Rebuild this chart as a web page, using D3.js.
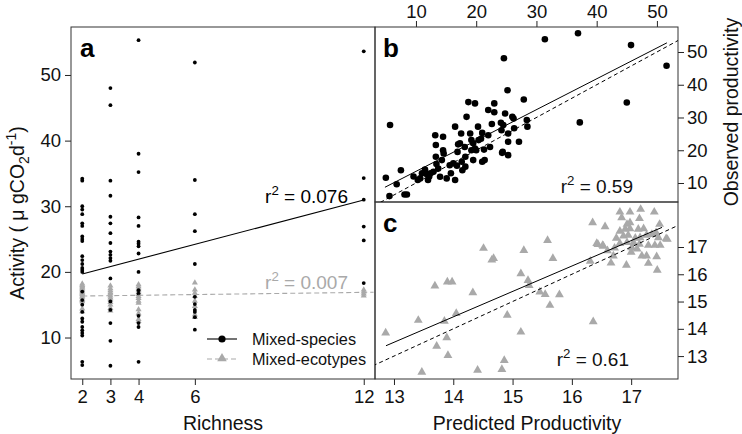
<!DOCTYPE html>
<html><head><meta charset="utf-8">
<script src="https://cdn.jsdelivr.net/npm/d3@7"></script>
<style>
body{margin:0;background:#fff}
text{font-family:"Liberation Sans",Arial,Helvetica,sans-serif}
</style>
</head><body>
<svg id="chart" width="742" height="434"></svg>
<script>
// ---------- Panel a data (Activity vs Richness) ----------
const richnessLevels = [2, 3, 4, 6, 12];
const species2 = [34.2, 33.9, 30.0, 29.5, 28.8, 27.4, 27.0, 25.4, 25.0, 24.7, 22.4, 21.8, 21.2, 20.6, 20.3, 20.0, 17.0, 15.7, 15.0, 13.9, 12.9, 12.4, 11.6, 11.1, 10.7, 10.3, 6.3, 5.8];
const species3 = [48.0, 45.4, 33.9, 31.6, 28.4, 27.4, 25.9, 24.4, 23.1, 22.6, 22.1, 21.7, 19.0, 15.5, 14.2, 12.2, 9.5, 5.7];
const species4 = [55.3, 38.0, 35.2, 28.3, 27.0, 24.6, 24.3, 23.9, 22.8, 20.0, 17.2, 16.7, 13.3, 12.2, 11.6, 6.3];
const species6 = [51.9, 34.0, 28.8, 26.2, 21.2, 16.2, 15.1, 14.2, 13.9, 13.1, 11.2];
const species12 = [53.6, 34.3, 31.0, 26.9, 24.8, 18.3];
const ecotypes2 = [18.3, 18.1, 17.9, 17.7, 17.5, 17.3, 17.1, 16.9, 16.7, 16.5, 16.3, 16.0, 15.8, 15.6, 14.5, 14.1];
const ecotypes3 = [18.0, 17.6, 17.3, 17.0, 16.8, 16.5, 16.2, 15.9, 15.5, 15.1, 14.6, 14.2];
const ecotypes4 = [18.2, 17.9, 17.6, 17.3, 17.0, 16.7, 16.4, 16.1, 15.7, 15.4, 14.4, 13.8, 12.9, 12.6];
const ecotypes6 = [18.45, 17.4, 16.9, 16.4, 15.7, 14.9, 13.6, 13.2];
const ecotypes12 = [17.4, 17.1, 16.8, 16.5];
const speciesFit = [17.43, 1.127];   // intercept, slope
const ecotypesFit = [16.21, 0.056];
const r2A = ["0.076", "0.007"];
const ticksRichness = [2, 3, 4, 6, 12];
const ticksActivity = [10, 20, 30, 40, 50];

// ---------- Panel b data (observed vs predicted productivity, species) ----------
const predB = [31.4, 36.9, 45.7, 51.6, 45.0, 37.2, 24.6, 25.2, 27.9, 5.7,
  5.0, 5.6, 6.8, 7.5, 8.1, 8.5, 10.3, 10.7, 11.5, 11.8, 12.0, 12.2, 12.9, 13.2, 13.3, 13.3, 13.4, 13.7, 14.0,
  14.5, 14.5, 14.6, 14.3, 15.1, 15.6, 16.5, 16.2, 16.5, 16.8, 17.5, 17.3, 17.6, 17.7, 18.1, 18.2, 18.2, 18.4,
  18.7, 19.8, 19.0, 19.2, 19.5, 19.2, 19.8, 19.5, 20.3, 20.4, 20.0, 21.0, 21.3, 21.4, 21.0, 22.0, 23.0, 22.0,
  22.3, 23.0, 24.1, 24.2, 24.4, 24.8, 25.3, 25.3, 26.0, 26.3, 27.1, 25.3, 24.5, 26.2, 28.4, 28.5, 24.3,
  12.4, 15.8, 16.9, 20.8, 22.6, 11.0, 9.6, 17.0];
const obsB = [53.9, 55.7, 52.1, 45.8, 34.6, 28.5, 48.1, 38.3, 35.5, 27.7,
  11.6, 6.0, 9.6, 13.9, 6.5, 6.5, 10.9, 11.4, 14.1, 12.7, 10.9, 12.0, 13.4, 24.6, 21.6, 18.0, 15.8, 14.4, 11.9,
  24.1, 20.0, 19.0, 17.0, 11.4, 15.4, 27.2, 16.0, 10.9, 15.3, 25.1, 22.1, 16.5, 13.9, 21.0, 18.0, 15.0, 30.2,
  34.7, 34.3, 25.1, 23.1, 22.1, 20.0, 20.5, 17.0, 27.2, 23.1, 20.0, 25.3, 20.2, 17.0, 16.5, 32.3, 31.6, 24.6,
  21.0, 34.3, 28.4, 26.1, 19.5, 31.2, 25.1, 22.6, 30.2, 26.7, 22.6, 18.5, 27.7, 29.7, 29.2, 27.2, 19.2,
  13.0, 13.0, 19.5, 23.5, 28.0, 13.0, 12.0, 21.8];
const fitB = [4.13, 0.942];
const fitBRange = [4.85, 51.66];
const ticksPredB = [10, 20, 30, 40, 50];
const ticksObsB = [10, 20, 30, 40, 50];

// ---------- Panel c data (observed vs predicted productivity, ecotypes) ----------
const predC = [12.86, 13.47, 13.41, 13.69, 13.72, 13.85, 13.89, 13.91, 13.90, 13.98, 14.05, 14.33, 14.41, 14.51,
  14.65, 14.68, 14.82, 14.86, 14.91, 15.14, 15.14, 15.19, 15.26, 15.28, 15.46, 15.55, 15.59, 15.63, 15.68, 15.79,
  16.31, 16.36, 16.35, 16.44, 16.53, 16.56, 16.81, 16.98, 17.16, 17.39, 16.84, 16.93, 16.98, 17.14, 17.48,
  16.81, 16.90, 16.98, 17.12, 17.21, 16.75, 16.87, 16.95, 17.07, 17.15, 17.26, 17.35, 17.42, 17.46, 17.61,
  16.42, 16.52, 16.81, 16.93, 17.04, 17.01, 17.10, 17.14, 17.29, 17.40, 17.49, 16.70, 17.18, 17.26, 17.43,
  16.92, 17.29, 17.44, 17.59, 16.66, 17.00, 16.72, 16.60];
const obsC = [13.89, 12.45, 14.35, 15.61, 13.40, 14.32, 13.71, 13.06, 15.76, 15.76, 14.60, 15.36, 12.52, 16.99,
  16.56, 16.62, 12.55, 12.88, 14.54, 16.06, 13.92, 16.91, 15.81, 15.63, 15.39, 15.30, 17.28, 14.90, 16.62, 15.29,
  16.52, 14.30, 17.93, 17.13, 17.07, 17.78, 18.32, 18.32, 18.42, 18.32, 18.11, 17.87, 17.93, 18.08, 17.87,
  17.62, 17.69, 17.71, 17.69, 17.71, 17.36, 17.44, 17.47, 17.36, 17.38, 17.47, 17.50, 17.56, 17.38, 17.32,
  17.17, 17.10, 17.17, 17.20, 17.20, 17.01, 16.97, 17.14, 17.10, 17.10, 17.10, 16.71, 16.71, 16.71, 16.68,
  16.37, 16.44, 16.19, 17.34, 16.45, 16.85, 17.00, 16.90];
const fitC = [1.39, 0.932];
const fitCRange = [12.865, 17.52];
const ticksPredC = [13, 14, 15, 16, 17];
const ticksObsC = [13, 14, 15, 16, 17];

// ---------- layout ----------
const svg = d3.select("#chart");
const GREY = "#a9a9a9";
const boxA = {l: 71, r: 375, t: 27, b: 379};
const boxB = {l: 375, r: 678, t: 27, b: 202};
const boxC = {l: 375, r: 678, t: 202, b: 379};

const xA = d3.scaleLinear().domain([1.6, 12.4]).range([boxA.l, boxA.r]);
const yA = d3.scaleLinear().domain([3.68, 57.31]).range([boxA.b, boxA.t]);
const xB = d3.scaleLinear().domain([3.2, 53.5]).range([boxB.l, boxB.r]);
const yB = d3.scaleLinear().domain([4.2, 57.63]).range([boxB.b, boxB.t]);
const xC = d3.scaleLinear().domain([12.68, 17.79]).range([boxC.l, boxC.r]);
const yC = d3.scaleLinear().domain([12.16, 18.65]).range([boxC.b, boxC.t]);

const defs = svg.append("defs");
[["clipB", boxB], ["clipC", boxC], ["clipA", boxA]].forEach(([id, b]) => {
  defs.append("clipPath").attr("id", id).append("rect")
    .attr("x", b.l).attr("y", b.t).attr("width", b.r - b.l).attr("height", b.b - b.t);
});

const fmt = d3.format("d");
function styleAxis(g) {
  g.select(".domain").remove();
  g.selectAll(".tick line").attr("stroke", "#222").attr("stroke-width", 1);
  g.selectAll(".tick text").attr("fill", "#111").style("font-size", "18.5px")
    .style("font-family", '"Liberation Sans",Arial,sans-serif');
}

// axes
svg.append("g").attr("transform", `translate(${boxA.l},0)`)
  .call(d3.axisLeft(yA).tickValues(ticksActivity).tickFormat(fmt).tickSize(6).tickPadding(4)).call(styleAxis);
svg.append("g").attr("transform", `translate(0,${boxA.b})`)
  .call(d3.axisBottom(xA).tickValues(ticksRichness).tickFormat(fmt).tickSize(6).tickPadding(5)).call(styleAxis);
svg.append("g").attr("transform", `translate(0,${boxB.t})`)
  .call(d3.axisTop(xB).tickValues(ticksPredB).tickFormat(fmt).tickSize(6).tickPadding(3)).call(styleAxis);
svg.append("g").attr("transform", `translate(${boxB.r},0)`)
  .call(d3.axisRight(yB).tickValues(ticksObsB).tickFormat(fmt).tickSize(6).tickPadding(3)).call(styleAxis);
svg.append("g").attr("transform", `translate(0,${boxC.b})`)
  .call(d3.axisBottom(xC).tickValues(ticksPredC).tickFormat(fmt).tickSize(6).tickPadding(5)).call(styleAxis);
svg.append("g").attr("transform", `translate(${boxC.r},0)`)
  .call(d3.axisRight(yC).tickValues(ticksObsC).tickFormat(fmt).tickSize(6).tickPadding(3)).call(styleAxis);

// boxes
[boxA, boxB, boxC].forEach(b => {
  svg.append("rect").attr("x", b.l).attr("y", b.t).attr("width", b.r - b.l).attr("height", b.b - b.t)
    .attr("fill", "none").attr("stroke", "#333").attr("stroke-width", 1);
});

const tri = d3.symbol().type(d3.symbolTriangle);

// ---------- panel a ----------
const speciesCols = [species2, species3, species4, species6, species12];
const ecotypeCols = [ecotypes2, ecotypes3, ecotypes4, ecotypes6, ecotypes12];
const gA = svg.append("g");
ecotypeCols.forEach((col, i) => {
  gA.selectAll(null).data(col).enter().append("path")
    .attr("d", tri.size(16)())
    .attr("transform", d => `translate(${xA(richnessLevels[i])},${yA(d) + 0.8})`)
    .attr("fill", GREY);
});
speciesCols.forEach((col, i) => {
  gA.selectAll(null).data(col).enter().append("circle")
    .attr("cx", xA(richnessLevels[i])).attr("cy", d => yA(d)).attr("r", 1.9).attr("fill", "#000");
});
const line = d3.line();
gA.append("path").attr("d", line([[xA(2), yA(speciesFit[0] + speciesFit[1] * 2)], [xA(12), yA(speciesFit[0] + speciesFit[1] * 12)]]))
  .attr("stroke", "#000").attr("stroke-width", 1.1).attr("fill", "none");
gA.append("path").attr("d", line([[xA(2), yA(ecotypesFit[0] + ecotypesFit[1] * 2)], [xA(12.35), yA(ecotypesFit[0] + ecotypesFit[1] * 12.35)]]))
  .attr("stroke", GREY).attr("stroke-width", 1.1).attr("stroke-dasharray", "5,3").attr("fill", "none");

function r2Label(g, x, y, val, color, size) {
  const t = g.append("text").attr("x", x).attr("y", y).attr("text-anchor", "end")
    .attr("fill", color).style("font-size", size + "px");
  t.append("tspan").text("r");
  t.append("tspan").attr("dy", -size * 0.42).style("font-size", (size * 0.7) + "px").text("2");
  t.append("tspan").attr("dy", size * 0.42).text(" = " + val);
}
r2Label(gA, 348, 203, r2A[0], "#000", 19);
r2Label(gA, 348, 289, r2A[1], GREY, 19);

// legend
const lg = svg.append("g");
lg.append("line").attr("x1", 207).attr("x2", 237).attr("y1", 339).attr("y2", 339).attr("stroke", "#000").attr("stroke-width", 1.1);
lg.append("circle").attr("cx", 222).attr("cy", 339).attr("r", 3.6).attr("fill", "#000");
lg.append("text").attr("x", 252).attr("y", 345).style("font-size", "16.3px").attr("fill", "#111").text("Mixed-species");
lg.append("line").attr("x1", 207).attr("x2", 237).attr("y1", 359).attr("y2", 359).attr("stroke", GREY).attr("stroke-width", 1.1).attr("stroke-dasharray", "5,3");
lg.append("path").attr("d", tri.size(40)()).attr("transform", "translate(222,358.5)").attr("fill", GREY);
lg.append("text").attr("x", 252).attr("y", 365).style("font-size", "16.3px").attr("fill", "#111").text("Mixed-ecotypes");

// ---------- panel b ----------
const gB = svg.append("g");
gB.append("line").attr("clip-path", "url(#clipB)")
  .attr("x1", xB(0)).attr("y1", yB(0)).attr("x2", xB(60)).attr("y2", yB(60))
  .attr("stroke", "#000").attr("stroke-width", 1).attr("stroke-dasharray", "4,3");
gB.append("line")
  .attr("x1", xB(fitBRange[0])).attr("y1", yB(fitB[0] + fitB[1] * fitBRange[0]))
  .attr("x2", xB(fitBRange[1])).attr("y2", yB(fitB[0] + fitB[1] * fitBRange[1]))
  .attr("stroke", "#000").attr("stroke-width", 1);
gB.selectAll(null).data(predB).enter().append("circle")
  .attr("cx", d => xB(d)).attr("cy", (d, i) => yB(obsB[i])).attr("r", 3.3).attr("fill", "#000");
r2Label(gB, 633, 193, "0.59", "#111", 19);

// ---------- panel c ----------
const gC = svg.append("g");
gC.selectAll(null).data(predC).enter().append("path")
  .attr("d", tri.size(34)())
  .attr("transform", (d, i) => `translate(${xC(d)},${yC(obsC[i]) + 1})`)
  .attr("fill", GREY);
gC.append("line").attr("clip-path", "url(#clipC)")
  .attr("x1", xC(12)).attr("y1", yC(12)).attr("x2", xC(19)).attr("y2", yC(19))
  .attr("stroke", "#000").attr("stroke-width", 1).attr("stroke-dasharray", "4,3");
gC.append("line")
  .attr("x1", xC(fitCRange[0])).attr("y1", yC(fitC[0] + fitC[1] * fitCRange[0]))
  .attr("x2", xC(fitCRange[1])).attr("y2", yC(fitC[0] + fitC[1] * fitCRange[1]))
  .attr("stroke", "#000").attr("stroke-width", 1);
r2Label(gC, 629, 366, "0.61", "#111", 19);

// panel letters
svg.append("text").attr("x", 80).attr("y", 57).style("font-size", "26px").style("font-weight", "bold").text("a");
svg.append("text").attr("x", 383).attr("y", 57).style("font-size", "26px").style("font-weight", "bold").text("b");
svg.append("text").attr("x", 383).attr("y", 232).style("font-size", "26px").style("font-weight", "bold").text("c");

// axis titles
svg.append("text").attr("x", 223).attr("y", 430).attr("text-anchor", "middle").style("font-size", "19.5px").attr("fill", "#111").text("Richness");
svg.append("text").attr("x", 527).attr("y", 430).attr("text-anchor", "middle").style("font-size", "19.5px").attr("fill", "#111").text("Predicted Productivity");
const yt = svg.append("text").attr("transform", "translate(24,213) rotate(-90)").attr("text-anchor", "middle")
  .style("font-size", "19.5px").attr("fill", "#111");
yt.append("tspan").text("Activity ( \u03BC gCO");
yt.append("tspan").attr("dy", 5).style("font-size", "14px").text("2");
yt.append("tspan").attr("dy", -5).text("d");
yt.append("tspan").attr("dy", -8).style("font-size", "14px").text("-1");
yt.append("tspan").attr("dy", 8).text(")");
svg.append("text").attr("transform", "translate(738,112) rotate(-90)").attr("text-anchor", "middle")
  .style("font-size", "19.5px").attr("fill", "#111").text("Observed productivity");
</script>
</body></html>
